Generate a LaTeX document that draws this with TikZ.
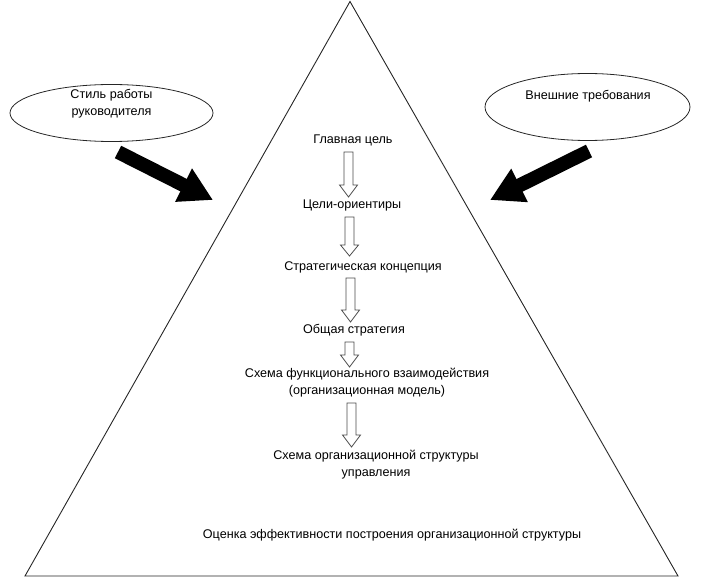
\documentclass[tikz,border=0pt]{standalone}
\usepackage{fontspec}
\setmainfont{Liberation Sans}
\usetikzlibrary{shapes.geometric,arrows.meta}
\newcommand\hollowarr[4]{% x, top, headstart, tip
  \draw[hollow] (#1-4.5,#2) -- (#1+4.5,#2) -- (#1+4.5,#3) -- (#1+9,#3) -- (#1,#4) -- (#1-9,#3) -- (#1-4.5,#3) -- cycle;}
\begin{document}
\begin{tikzpicture}[x=1pt,y=-1pt,
  txt/.style={font=\fontsize{12.6}{16.8}\selectfont, align=center, inner sep=0pt},
  oval/.style={ellipse, draw=black!85, line width=0.8pt, inner sep=0pt},
  bigarrow/.style={line width=14pt, black, -{Triangle[length=33pt,width=35pt]}},
  hollow/.style={draw=black!70, line width=0.8pt, fill=white}]
\useasboundingbox (0,0) rectangle (704,588);
% pyramid
\draw[line width=0.9pt, black!85] (350,1.5) -- (678,576) -- (25,576) -- cycle;
% ellipses
\node[oval, minimum width=203pt, minimum height=57pt] (e1) at (111.5,113) {};
\node[txt] (t1) at (111.5,104) {Стиль работы\\руководителя};
\node[oval, minimum width=205pt, minimum height=67pt] (e2) at (587.5,107) {};
\node[txt] (t2) at (588,96) {Внешние требования};
% big arrows
\coordinate (a1s) at (118,152);
\coordinate (a1e) at (213,200);
\coordinate (a2s) at (589,151);
\coordinate (a2e) at (490,200);
\draw[bigarrow] (a1s) -- (a1e);
\draw[bigarrow] (a2s) -- (a2e);
% central chain
\node[txt] (n1) at (353,140) {Главная цель};
\node[txt] (n2) at (352,205) {Цели-ориентиры};
\node[txt] (n3) at (363,267) {Стратегическая концепция};
\node[txt] (n4) at (354,330) {Общая стратегия};
\node[txt] (n5) at (367,383) {Схема функционального взаимодействия\\(организационная модель)};
\node[txt] (n6) at (376,465) {Схема организационной структуры\\управления};
\node[txt] (n7) at (392,535) {Оценка эффективности построения организационной структуры};
\hollowarr{348.5}{152}{185}{197}
\hollowarr{349.5}{217}{245}{256}
\hollowarr{350.5}{278}{310}{322}
\hollowarr{349.5}{342}{355}{367}
\hollowarr{351.5}{403}{435}{447}
\end{tikzpicture}
\end{document}
